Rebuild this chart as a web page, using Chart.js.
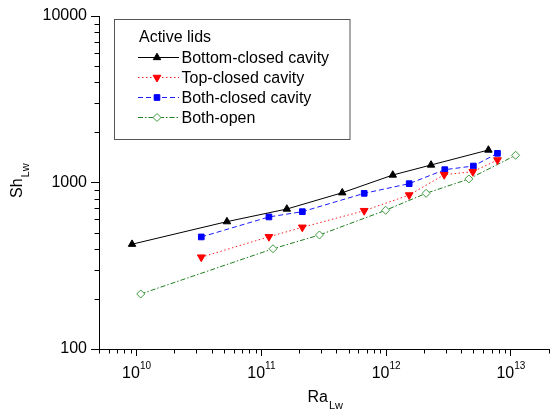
<!DOCTYPE html>
<html><head><meta charset="utf-8">
<script src="https://cdn.jsdelivr.net/npm/chart.js@4.4.1/dist/chart.umd.min.js"></script>
<style>html,body{margin:0;padding:0;background:#fff;}#wrap{width:554px;height:412px;position:relative;}</style>
</head><body><div id="wrap"><canvas id="c" width="554" height="412"></canvas></div>
<script>
// ---- data ----
const bottomClosedRa = [9.2e9, 5.3e10, 1.6e11, 4.45e11, 1.13e12, 2.29e12, 6.6e12];
const bottomClosedSh = [426, 582, 693, 868, 1109, 1274, 1567];
const topClosedRa = [3.3e10, 1.15e11, 2.13e11, 6.67e11, 1.53e12, 2.92e12, 4.95e12, 7.8e12];
const topClosedSh = [356, 472, 538, 677, 841, 1114, 1161, 1365];
const bothClosedRa = [3.3e10, 1.15e11, 2.13e11, 6.67e11, 1.53e12, 2.95e12, 5.0e12, 7.8e12];
const bothClosedSh = [471, 621, 668, 861, 984, 1194, 1256, 1497];
const bothOpenRa = [1.08e10, 1.24e11, 2.92e11, 9.9e11, 2.09e12, 4.6e12, 1.09e13];
const bothOpenSh = [214, 400, 484, 681, 861, 1050, 1457];
const seriesNames = ['Bottom-closed cavity', 'Top-closed cavity', 'Both-closed cavity', 'Both-open'];
const legendTitle = 'Active lids';
const xTickExponents = [10, 11, 12, 13];
const yTickLabels = [100, 1000, 10000];
const xTitle = ['Ra', 'Lw'];
const yTitle = ['Sh', 'Lw'];

const FONT = '"Liberation Sans", Arial, Helvetica, sans-serif';
const X_MIN = 5e9, X_MAX = 2e13, Y_MIN = 100, Y_MAX = 10000;

function isPow10(v) { const l = Math.log10(v); return Math.abs(l - Math.round(l)) < 1e-9; }
function logTicks(min, max) {
  const out = [];
  for (let e = Math.floor(Math.log10(min)); e <= Math.ceil(Math.log10(max)); e++) {
    for (let m = 1; m <= 9; m++) {
      const v = m * Math.pow(10, e);
      if (v >= min * 0.999999 && v <= max * 1.000001) out.push({ value: v, major: m === 1 });
    }
  }
  return out;
}
const pts = (xs, ys) => xs.map((x, i) => ({ x: x, y: ys[i] }));

const datasets = [
  { label: seriesNames[0], data: pts(bottomClosedRa, bottomClosedSh), borderColor: '#000', borderWidth: 1, borderDash: [],
    pointStyle: 'triangle', pointRotation: 0, pointRadius: 4.3, pointBackgroundColor: '#000', pointBorderColor: '#000', pointBorderWidth: 1 },
  { label: seriesNames[1], data: pts(topClosedRa, topClosedSh), borderColor: '#ff2020', borderWidth: 1, borderDash: [1.5, 2.5],
    pointStyle: 'triangle', pointRotation: 180, pointRadius: 4.5, pointBackgroundColor: '#ff0000', pointBorderColor: '#ff0000', pointBorderWidth: 1 },
  { label: seriesNames[2], data: pts(bothClosedRa, bothClosedSh), borderColor: '#1a1aff', borderWidth: 1, borderDash: [5, 3],
    pointStyle: 'rect', pointRotation: 0, pointRadius: 4, pointBackgroundColor: '#0000ff', pointBorderColor: '#0000ff', pointBorderWidth: 1 },
  { label: seriesNames[3], data: pts(bothOpenRa, bothOpenSh), borderColor: '#1f7f1f', borderWidth: 1, borderDash: [5, 2, 1.5, 2],
    pointStyle: 'rectRot', pointRotation: 0, pointRadius: 4, pointBackgroundColor: '#ffffff', pointBorderColor: '#3f9a3f', pointBorderWidth: 1 }
];
datasets.forEach(d => { d.fill = false; d.tension = 0; d.showLine = true; });

const decorPlugin = {
  id: 'decor',
  afterDraw(chart) {
    const ctx = chart.ctx, xs = chart.scales.x, ys = chart.scales.y;
    ctx.save();
    ctx.strokeStyle = '#000'; ctx.lineWidth = 1; ctx.setLineDash([]);
    // minor ticks
    xs.ticks.forEach(t => {
      if (!t.major) {
        const px = Math.round(xs.getPixelForValue(t.value)) + 0.5;
        ctx.beginPath(); ctx.moveTo(px, xs.top); ctx.lineTo(px, xs.top + 4.5); ctx.stroke();
      }
    });
    ys.ticks.forEach(t => {
      if (!t.major) {
        const py = Math.round(ys.getPixelForValue(t.value)) + 0.5;
        ctx.beginPath(); ctx.moveTo(ys.right - 4.5, py); ctx.lineTo(ys.right, py); ctx.stroke();
      }
    });
    // x tick labels 10^n
    ctx.fillStyle = '#000'; ctx.textBaseline = 'alphabetic'; ctx.textAlign = 'left';
    xTickExponents.forEach(e => {
      const px = xs.getPixelForValue(Math.pow(10, e));
      ctx.font = '16px ' + FONT; const wb = ctx.measureText('10').width;
      ctx.font = '10px ' + FONT; const ws = ctx.measureText(String(e)).width;
      const x0 = px - (wb + ws) / 2;
      ctx.font = '16px ' + FONT; ctx.fillText('10', x0, 378);
      ctx.font = '10px ' + FONT; ctx.fillText(String(e), x0 + wb, 368.5);
    });
    // x title
    ctx.font = '16px ' + FONT; const wRa = ctx.measureText(xTitle[0]).width;
    ctx.font = '11px ' + FONT; const wLw = ctx.measureText(xTitle[1]).width;
    const cx = (chart.chartArea.left + chart.chartArea.right) / 2 + 1.5;
    const xs0 = cx - (wRa + 1 + wLw) / 2;
    ctx.font = '16px ' + FONT; ctx.fillText(xTitle[0], xs0, 402);
    ctx.font = '11px ' + FONT; ctx.fillText(xTitle[1], xs0 + wRa + 1, 408.5);
    // y title (rotated)
    ctx.save();
    ctx.translate(22, 198); ctx.rotate(-Math.PI / 2);
    ctx.font = '16px ' + FONT; const wSh = ctx.measureText(yTitle[0]).width;
    ctx.fillText(yTitle[0], 0, 0);
    ctx.font = '11px ' + FONT; ctx.fillText(yTitle[1], wSh + 1, 7);
    ctx.restore();
    // legend
    ctx.strokeStyle = '#555'; ctx.lineWidth = 1;
    ctx.strokeRect(114.5, 19.5, 235.5, 120);
    ctx.fillStyle = '#000'; ctx.font = '16px ' + FONT;
    ctx.fillText(legendTitle, 139, 42);
    const baselines = [63, 83, 103, 123];
    datasets.forEach((d, i) => {
      const cy = baselines[i] - 5.7;
      ctx.save();
      ctx.strokeStyle = d.borderColor; ctx.lineWidth = d.borderWidth; ctx.setLineDash(d.borderDash);
      ctx.beginPath(); ctx.moveTo(138, Math.round(cy) + 0.5); ctx.lineTo(179, Math.round(cy) + 0.5); ctx.stroke();
      ctx.setLineDash([]);
      ctx.fillStyle = d.pointBackgroundColor; ctx.strokeStyle = d.pointBorderColor; ctx.lineWidth = d.pointBorderWidth;
      if (Chart.helpers && Chart.helpers.drawPoint) {
        Chart.helpers.drawPoint(ctx, { pointStyle: d.pointStyle, rotation: d.pointRotation, radius: d.pointRadius, borderWidth: d.pointBorderWidth }, 157, Math.round(cy) + 0.5);
      }
      ctx.restore();
      ctx.fillStyle = '#000'; ctx.font = '16px ' + FONT;
      ctx.fillText(d.label, 181.5, baselines[i]);
    });
    ctx.restore();
  }
};

new Chart(document.getElementById('c'), {
  type: 'line',
  data: { datasets: datasets },
  plugins: [decorPlugin],
  options: {
    responsive: false, animation: false, devicePixelRatio: 1, events: [],
    layout: { padding: { top: 16, right: 0, left: 0, bottom: 0 } },
    plugins: { legend: { display: false }, tooltip: { enabled: false } },
    elements: { line: { borderCapStyle: 'butt' } },
    scales: {
      x: {
        type: 'logarithmic', position: 'bottom', min: X_MIN, max: X_MAX,
        afterBuildTicks: s => { s.ticks = logTicks(X_MIN, X_MAX); },
        afterFit: s => { s.height = 63; },
        grid: { display: true, drawOnChartArea: false, drawTicks: true, tickLength: 7, tickWidth: 1,
          tickColor: c => (c.tick && c.tick.major) ? '#000' : 'rgba(0,0,0,0)' },
        border: { display: true, color: '#000', width: 1 },
        ticks: { display: false, autoSkip: false }
      },
      y: {
        type: 'logarithmic', position: 'left', min: Y_MIN, max: Y_MAX,
        afterBuildTicks: s => { s.ticks = logTicks(Y_MIN, Y_MAX); },
        afterFit: s => { s.width = 99; },
        grid: { display: true, drawOnChartArea: false, drawTicks: true, tickLength: 8, tickWidth: 1,
          tickColor: c => (c.tick && c.tick.major) ? '#000' : 'rgba(0,0,0,0)' },
        border: { display: true, color: '#000', width: 1 },
        ticks: { autoSkip: false, padding: 4, color: '#000', font: { family: FONT, size: 16 },
          callback: v => yTickLabels.some(t => Math.abs(t - v) < 1e-6) ? String(v) : '' }
      }
    }
  }
});
</script>
</body></html>
